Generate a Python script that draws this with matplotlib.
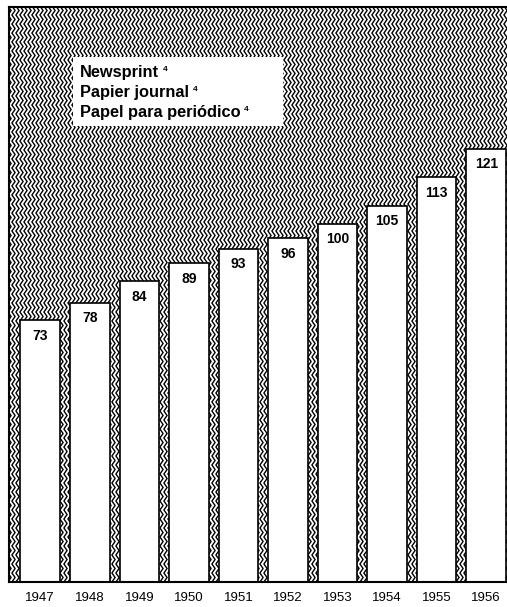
import matplotlib
matplotlib.use("Agg")
import matplotlib.pyplot as plt
import numpy as np
from matplotlib.collections import LineCollection
from matplotlib.patches import Rectangle
from matplotlib.text import Annotation

# --- data ---
years = ['1947', '1948', '1949', '1950', '1951', '1952', '1953', '1954', '1955', '1956']
values = [73, 78, 84, 89, 93, 96, 100, 105, 113, 121]
legend_lines = ['Newsprint', 'Papier journal', 'Papel para periódico']
footnote = '4'

plt.rcParams['font.family'] = ['Liberation Sans', 'DejaVu Sans']

fig = plt.figure(figsize=(5.07, 6.07), dpi=100)
ax = fig.add_axes([9 / 507, 25 / 607, 498 / 507, 575 / 607])

# --- zigzag background texture (vertical wavy lines) ---
w_px, h_px = 498.0, 575.0
step_x = 4.0
half_period = 4.5
amp = 1.6
n_pts = int(h_px / half_period) + 2
ys = np.arange(n_pts) * half_period / h_px
offs = np.where(np.arange(n_pts) % 2 == 0, -amp, amp) / w_px
segs = []
for x0 in np.arange(0.5, w_px + step_x, step_x):
    xs = x0 / w_px + offs
    segs.append(np.column_stack([xs, ys]))
lc = LineCollection(segs, colors='black', linewidths=1.0, transform=ax.transAxes, zorder=0)
ax.add_collection(lc)

# --- bars ---
x = np.arange(len(years))
bars = ax.bar(x, values, width=0.8, color='white', edgecolor='black', linewidth=1.2, zorder=2)
for xi, v in zip(x, values):
    ax.text(xi, v - 2.4, str(v), ha='center', va='top', fontsize=10, fontweight='bold',
            family=['Liberation Sans Narrow', 'Liberation Sans', 'DejaVu Sans'], zorder=3)

ax.set_xlim(-0.63, 9.42)
ax.set_ylim(0, 160.5)
ax.set_xticks(x)
ax.set_xticklabels(years, fontsize=9.5)
ax.tick_params(axis='x', length=0, pad=7)
ax.set_yticks([])
ax.spines['right'].set_visible(False)
for s in ['left', 'top', 'bottom']:
    ax.spines[s].set_linewidth(1.5)

# --- legend box ---
box = Rectangle((73 / 507, 1 - 126 / 607), 210 / 507, 69 / 607, transform=fig.transFigure,
                facecolor='white', edgecolor='none', zorder=4)
fig.patches.append(box)
for i, t in enumerate(legend_lines):
    y = 1 - (73 + 20 * i) / 607
    txt = fig.text(80 / 507, y, t, fontsize=11.8, fontweight='bold', va='center', zorder=5)
    sup = Annotation(footnote, xy=(1, 1), xycoords=txt, xytext=(2.5, -0.5), textcoords='offset points',
                     fontsize=6, fontweight='bold', va='top', ha='left', zorder=6,
                     annotation_clip=False)
    fig.add_artist(sup)

fig.savefig('out.png', dpi=100)
